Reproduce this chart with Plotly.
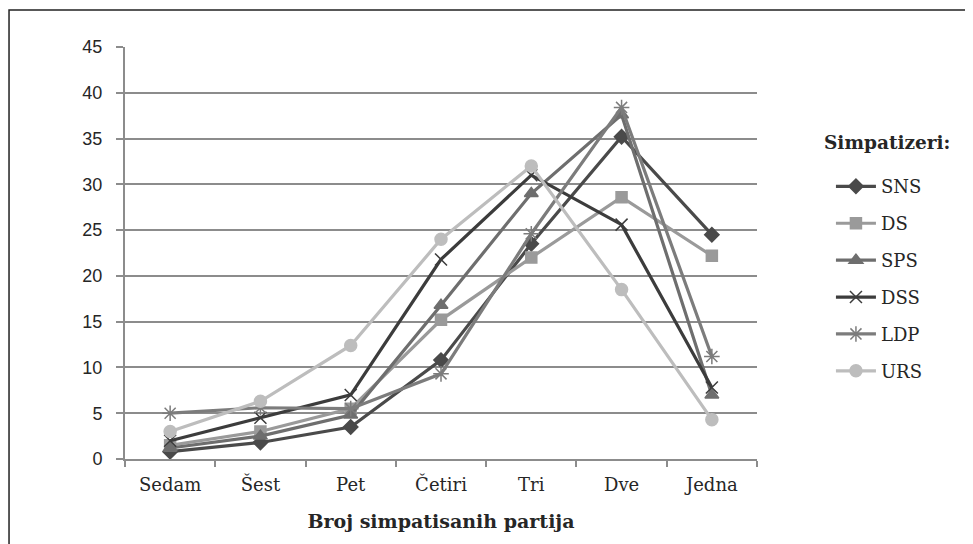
import plotly.graph_objects as go

# Colour palette (greyscale)
GRID = "#8c8c8c"
AXIS = "#8c8c8c"
DARK = "#262626"

SERIF = "DejaVu Serif, serif"
SANS = "Liberation Sans Narrow, Liberation Sans, sans-serif"

# ── Data ──────────────────────────────────────────────────────────────────────
CATEGORIES = ["Sedam", "Šest", "Pet", "Četiri", "Tri", "Dve", "Jedna"]

SNS = [0.8, 1.8, 3.5, 10.8, 23.5, 35.2, 24.5]
DS  = [1.5, 3.0, 5.5, 15.2, 22.0, 28.6, 22.2]
SPS = [1.2, 2.5, 4.8, 16.8, 29.0, 37.6, 7.0]
DSS = [2.0, 4.5, 7.0, 21.8, 31.0, 25.6, 7.8]
LDP = [5.0, 5.6, 5.5, 9.3, 24.6, 38.4, 11.2]
URS = [3.0, 6.3, 12.4, 24.0, 32.0, 18.5, 4.3]

series = [
    ("SNS", SNS, "#4a4a4a", "diamond", 11),
    ("DS",  DS,  "#9a9a9a", "square", 11),
    ("SPS", SPS, "#6e6e6e", "triangle-up", 12),
    ("DSS", DSS, "#3c3c3c", "x-thin-open", 12),
    ("LDP", LDP, "#7c7c7c", "asterisk-open", 13),
    ("URS", URS, "#bdbdbd", "circle", 12),
]

fig = go.Figure()
for name, values, colour, symbol, size in series:
    fig.add_trace(go.Scatter(
        x=CATEGORIES, y=values,
        name=name,
        legendgroup=name,
        mode="lines+markers",
        line=dict(color=colour, width=3.2),
        marker=dict(symbol=symbol, size=size, color=colour,
                    line=dict(color=colour, width=1.5)),
    ))

# page body keeps its default 8px margin, so the figure is 8px smaller
fig.update_layout(
    width=965, height=536,
    paper_bgcolor="white", plot_bgcolor="white",
    margin=dict(l=117, r=216, t=39, b=85),
    font=dict(family=SERIF, color=DARK),
    showlegend=True,
    legend=dict(
        x=1.117, y=0.706, xanchor="left", yanchor="top",
        font=dict(size=18, family=SERIF, color=DARK),
        tracegroupgap=10.5,
        itemwidth=40,
        bgcolor="rgba(0,0,0,0)",
    ),
    annotations=[
        dict(text="<b>Simpatizeri:</b>", xref="paper", yref="paper",
             x=1.103, y=0.767, xanchor="left", yanchor="middle", showarrow=False,
             font=dict(size=18.5, family=SERIF, color=DARK)),
    ],
    xaxis=dict(
        showgrid=False, zeroline=False,
        showline=True, linecolor=AXIS, linewidth=2,
        ticks="outside", tickson="boundaries", ticklen=6, tickcolor=AXIS, tickwidth=2,
        ticklabelstandoff=8,
        tickfont=dict(size=18, family=SERIF, color=DARK),
        title=dict(text="<b>Broj simpatisanih partija</b>",
                   font=dict(size=19, family=SERIF, color=DARK), standoff=21),
        range=[-0.5, 6.5],
    ),
    yaxis=dict(
        range=[0, 45], dtick=5,
        showgrid=True, gridcolor=GRID, gridwidth=2,
        zeroline=False,
        showline=True, linecolor=AXIS, linewidth=2,
        ticks="outside", ticklen=7, tickcolor=AXIS, tickwidth=2,
        ticklabelstandoff=10,
        tickfont=dict(size=18, family=SANS, color=DARK),
    ),
    shapes=[
        dict(type="rect", xref="paper", yref="paper",
             x0=-0.1835, x1=1.6, y0=-0.4, y1=1.0898,
             line=dict(color="#222222", width=1.5), layer="below"),
    ],
)

fig.write_html("out.html")
